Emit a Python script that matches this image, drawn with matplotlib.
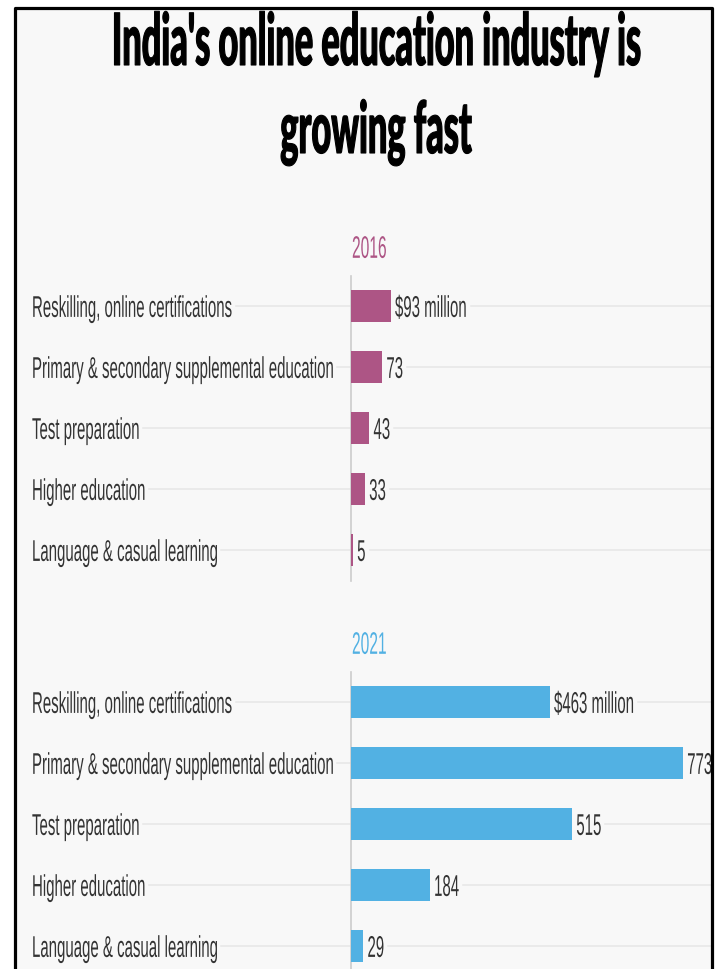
import matplotlib
matplotlib.use("Agg")
import matplotlib.pyplot as plt
from matplotlib.patheffects import AbstractPathEffect
from matplotlib.transforms import Affine2D, ScaledTranslation, blended_transform_factory
from matplotlib.lines import Line2D
from matplotlib.patches import Rectangle

categories = ["Reskilling, online certifications",
              "Primary & secondary supplemental education",
              "Test preparation",
              "Higher education",
              "Language & casual learning"]
vals_2016 = [93, 73, 43, 33, 5]
vals_2021 = [463, 773, 515, 184, 29]
labels_2016 = ["$93 million", "73", "43", "33", "5"]
labels_2021 = ["$463 million", "773", "515", "184", "29"]
title_lines = ["India's online education industry is", "growing fast"]

BG = "#F8F8F8"; INK = "#333333"; GRID = "#E6E6E6"; AXIS = "#CCCCCC"
PINK = "#AD5585"; BLUE = "#52B1E3"
W, H = 717, 969
ROW = 61          # px between bars
FONT = "Liberation Sans"


class Tall(AbstractPathEffect):
    """stretch glyphs vertically: the source face is very condensed"""
    def __init__(self, sy, ya=36, stroke=0):
        super().__init__()
        self.sy, self.ya, self.stroke = sy, ya, stroke

    def draw_path(self, renderer, gc, tpath, affine, rgbFace=None):
        y0 = affine.transform_point((0, self.ya))[1]
        t = affine + Affine2D().translate(0, -y0).scale(1, self.sy).translate(0, y0)
        if self.stroke:
            gc0 = renderer.new_gc()
            gc0.copy_properties(gc)
            gc0.set_linewidth(self.stroke)
            gc0.set_foreground(rgbFace)
            gc0.set_joinstyle("round")
            renderer.draw_path(gc0, tpath, t, rgbFace)
            gc0.restore()
        else:
            renderer.draw_path(gc, tpath, t, rgbFace)


def fx(px): return px / W
def fy(py): return 1 - py / H


BODY = dict(fontsize=10.8, family=FONT, color=INK, path_effects=[Tall(2.0)])

fig = plt.figure(figsize=(W / 100, H / 100), dpi=100)
fig.patch.set_facecolor("white")
fig.add_artist(Rectangle((fx(15), 0), fx(712) - fx(15), fy(8), transform=fig.transFigure,
                         facecolor=BG, edgecolor="none", zorder=-5))
fig.add_artist(Line2D([fx(15), fx(15), fx(712), fx(712)], [0, fy(8), fy(8), 0],
                      transform=fig.transFigure, color="black", lw=2.3, zorder=10))

for line, base in zip(title_lines, [65, 153]):
    fig.text(fx(376), fy(base), line, ha="center", va="baseline", fontsize=24.7,
             fontweight="black", family=["Lato", FONT], color="black",
             path_effects=[Tall(2.1, ya=0, stroke=0.8)])

rows = []


def panel(top, bottom, vals, vlabels, year, color):
    ax = fig.add_axes([fx(351), fy(bottom), fx(712) - fx(351), (bottom - top) / H])
    ax.set_facecolor("none")
    ax.barh(range(len(vals)), vals, height=0.54, color=color, zorder=3)
    ax.set_xlim(0, 840)
    ax.set_ylim(-0.5 + (bottom - top) / ROW, -0.5)
    ax.set_xticks([]); ax.set_yticks([])
    for s in ["top", "right", "bottom"]:
        ax.spines[s].set_visible(False)
    ax.spines["left"].set_color(AXIS); ax.spines["left"].set_linewidth(1.2)

    ax.text(0, -0.98, year, ha="left", va="center_baseline",
            transform=ax.transData + ScaledTranslation(1 / 100, 0, fig.dpi_scale_trans),
            **{**BODY, "color": color, "fontsize": 11.2})
    mix = blended_transform_factory(fig.transFigure, ax.transData)
    for i, (cat, v, lab) in enumerate(zip(categories, vals, vlabels)):
        t1 = fig.text(fx(32), i, cat, ha="left", va="center_baseline", transform=mix, **BODY)
        t2 = ax.text(v, i, lab, ha="left", va="center_baseline",
                     transform=ax.transData + ScaledTranslation(4 / 100, 0, fig.dpi_scale_trans), **BODY)
        rows.append((mix, i, t1, t2))


panel(275.5, 580.5, vals_2016, labels_2016, "2016", PINK)
panel(671.5, 969, vals_2021, labels_2021, "2021", BLUE)

# grid lines run from the end of each label to the axis, and from the value to the frame
fig.canvas.draw()
r = fig.canvas.get_renderer()
for mix, i, t1, t2 in rows:
    a = t1.get_window_extent(r).x1 + 3
    b = t2.get_window_extent(r).x1 + 4
    for x0, x1 in [(a, 350), (b, 711)]:
        if x1 > x0:
            fig.add_artist(Line2D([fx(x0), fx(x1)], [i, i], transform=mix, color=GRID, lw=1.1, zorder=-1))

fig.savefig("out.png", dpi=100, facecolor="white")
